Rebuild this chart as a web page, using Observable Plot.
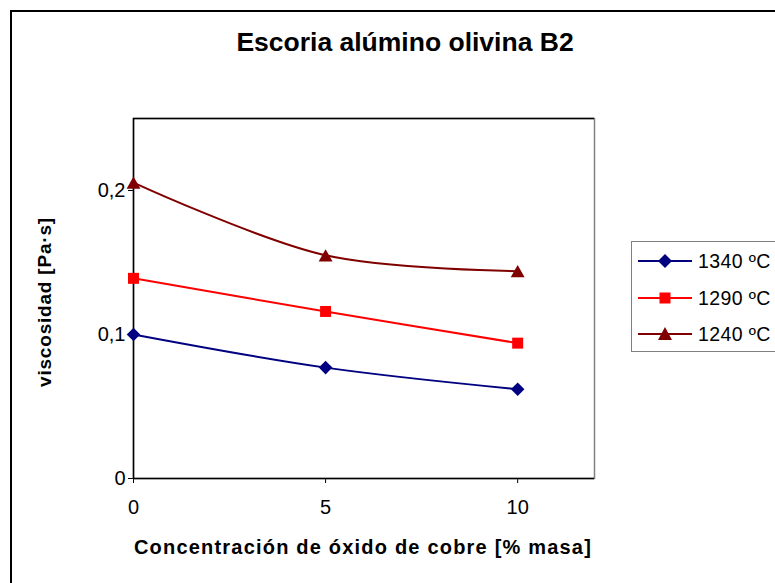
<!DOCTYPE html>
<html>
<head>
<meta charset="utf-8">
<script src="https://cdn.jsdelivr.net/npm/d3@7"></script>
<script src="https://cdn.jsdelivr.net/npm/@observablehq/plot@0.6"></script>
<style>
  html, body { margin: 0; padding: 0; background: white; overflow: hidden; }
  #wrap { position: relative; width: 775px; height: 583px; overflow: hidden; font-family: "Liberation Sans", Arial, sans-serif; color: #000; }
  #outer { position: absolute; left: 10px; top: 10px; width: 820px; height: 620px; border: 2px solid #000; box-sizing: border-box; }
  #chart { position: absolute; left: 0; top: 0; }
  #chart svg text { font-size: 20px !important; fill: #000; }
  .lbl { position: absolute; font-weight: bold; white-space: nowrap; }
  #title { left: 0; width: 810px; top: 27px; text-align: center; font-size: 26.5px; }
  #xlab { left: 363px; top: 536px; transform: translateX(-50%); font-size: 20px; letter-spacing: 1.2px; }
  #ylab { left: 45px; top: 302px; transform: translate(-50%, -50%) rotate(-90deg); font-size: 19px; letter-spacing: 0.8px; }
  #legend { position: absolute; left: 631px; top: 241px; width: 170px; height: 111px; border: 1px solid #808080; box-sizing: border-box; background: white; }
  .row { position: absolute; left: 0; height: 24px; display: flex; align-items: center; font-size: 19.5px; letter-spacing: 0.4px; }
  .row svg { margin-left: 6px; margin-right: 6px; }
</style>
</head>
<body>
<div id="wrap">
  <div id="outer"></div>
  <div id="chart"></div>
  <div id="title" class="lbl">Escoria alúmino olivina B2</div>
  <div id="xlab" class="lbl">Concentración de óxido de cobre [% masa]</div>
  <div id="ylab" class="lbl">viscosidad [Pa·s]</div>
  <div id="legend"></div>
</div>
<script>
// ---- data ----
const concentracion = [0, 5, 10];
const serieNombres = ["1340 ºC", "1290 ºC", "1240 ºC"];
const visc1340 = [0.100, 0.077, 0.062];
const visc1290 = [0.139, 0.116, 0.094];
const visc1240 = [0.2055, 0.155, 0.144];
const xTicks = [0, 5, 10];
const yTicks = [0, 0.1, 0.2];

const colores = ["#000080", "#FF0000", "#800000"];

const diamond = {
  draw(context, size) {
    const r = Math.sqrt(size / 2);
    context.moveTo(0, -r); context.lineTo(r, 0); context.lineTo(0, r); context.lineTo(-r, 0); context.closePath();
  }
};
const square = {
  draw(context, size) {
    const s = Math.sqrt(size) / 2;
    context.moveTo(-s, -s); context.lineTo(s, -s); context.lineTo(s, s); context.lineTo(-s, s); context.closePath();
  }
};
const triangle = {
  draw(context, size) {
    const a = Math.sqrt(size) * 0.7;
    const h = a * 1.75;
    context.moveTo(0, -h / 2); context.lineTo(a, h / 2); context.lineTo(-a, h / 2); context.closePath();
  }
};
const simbolos = [diamond, square, triangle];
const radios = [5.4, 6.2, 5.6];

const valores = [visc1340, visc1290, visc1240];
const data = [];
serieNombres.forEach((s, i) => concentracion.forEach((c, j) => data.push({serie: s, x: c, y: valores[i][j], idx: i})));

const marks = [
  Plot.frame({stroke: "#808080", strokeWidth: 1.5}),
  Plot.ruleY([0.25], {stroke: "#000", strokeWidth: 1.5}),
  Plot.ruleX([0], {stroke: "#000", strokeWidth: 1.5}),
  Plot.ruleY([0], {stroke: "#000", strokeWidth: 1.5})
];
serieNombres.forEach((s, i) => {
  const d = data.filter(r => r.idx === i);
  marks.push(Plot.line(d, {x: "x", y: "y", stroke: colores[i], strokeWidth: 2, curve: "catmull-rom"}));
});
serieNombres.forEach((s, i) => {
  const d = data.filter(r => r.idx === i);
  marks.push(Plot.dot(d, {x: "x", y: "y", fill: colores[i], stroke: "none", r: radios[i], symbol: simbolos[i]}));
});

const chart = Plot.plot({
  width: 775,
  height: 583,
  marginLeft: 133,
  marginRight: 181,
  marginTop: 118,
  marginBottom: 105,
  style: {background: "transparent", fontFamily: "'Liberation Sans', Arial, sans-serif", fontSize: "20px", color: "#000"},
  x: {domain: [0, 12], ticks: xTicks, tickSize: 5, tickPadding: 16, tickFormat: d => String(d), label: null},
  y: {domain: [0, 0.25], ticks: yTicks, tickSize: 5, tickPadding: 3, tickFormat: d => String(d).replace(".", ","), label: null},
  marks
});
document.getElementById("chart").appendChild(chart);

// ---- legend ----
const legend = document.getElementById("legend");
const rowTops = [7, 44, 80];
serieNombres.forEach((s, i) => {
  const row = document.createElement("div");
  row.className = "row";
  row.style.top = rowTops[i] + "px";
  let shape;
  if (i === 0) shape = `<polygon points="27,5 34,12 27,19 20,12" fill="${colores[i]}"/>`;
  else if (i === 1) shape = `<rect x="21.5" y="6.5" width="11" height="11" fill="${colores[i]}"/>`;
  else shape = `<polygon points="27,5 34,18 20,18" fill="${colores[i]}"/>`;
  row.innerHTML = `<svg width="54" height="24"><line x1="0" x2="54" y1="12" y2="12" stroke="${colores[i]}" stroke-width="2"/>${shape}</svg><span>${s}</span>`;
  legend.appendChild(row);
});
</script>
</body>
</html>
